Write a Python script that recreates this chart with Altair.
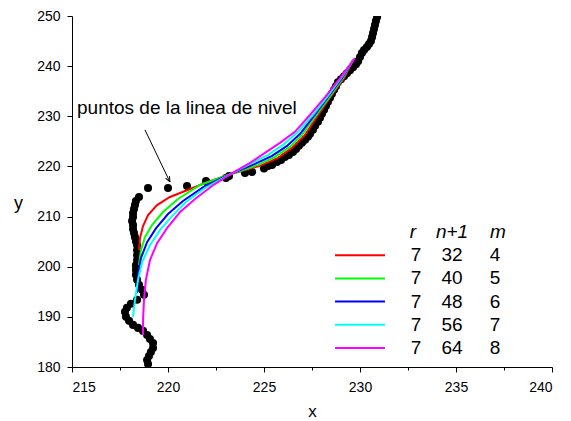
import altair as alt
import pandas as pd

# ---------------- data ----------------
# level-line points (black dots)
pts_x = [218.96, 220.0, 220.99, 221.98, 223.02, 223.18, 224.01, 224.38, 225.0, 225.21,
         218.49, 218.33, 218.28, 218.23, 218.18, 218.18, 218.13, 218.18, 218.18, 218.23,
         218.28, 218.33, 218.39, 218.39, 218.39, 218.39, 218.33, 218.33, 218.33, 218.39,
         218.49, 218.65, 218.75, 218.39, 218.07, 217.86, 217.76, 217.81, 217.97, 218.18,
         218.44, 218.70, 218.91, 219.06, 219.22, 219.22, 219.11, 219.01, 218.91, 218.96,
         225.42, 225.68, 225.89, 226.09, 226.30, 226.51, 226.67, 226.82, 226.98, 227.14,
         227.29, 227.40, 227.55, 227.66, 227.81, 227.92, 228.02, 228.13, 228.23, 228.33,
         228.44, 228.54, 228.65, 228.75, 228.85, 229.01, 229.17, 229.32, 229.48, 229.64,
         229.79, 229.90, 230.0, 230.10, 230.21, 230.36, 230.47, 230.57, 230.63, 230.68,
         230.73, 230.78, 230.83, 230.89]
pts_y = [215.7, 215.7, 216.1, 217.1, 217.7, 218.1, 218.7, 218.9, 219.6, 220.1,
         213.9, 213.1, 212.3, 211.5, 210.7, 209.9, 209.1, 208.3, 207.5, 206.7,
         205.9, 205.1, 204.3, 203.3, 202.3, 201.3, 200.3, 199.4, 198.4, 197.4,
         196.4, 195.4, 194.4, 193.4, 192.6, 191.8, 191.0, 190.0, 189.2, 188.4,
         187.8, 187.2, 186.4, 185.6, 184.8, 183.8, 183.0, 182.2, 181.4, 180.6,
         220.3, 220.9, 221.3, 221.9, 222.3, 222.9, 223.5, 224.1, 224.7, 225.3,
         225.9, 226.5, 227.3, 228.1, 228.9, 229.7, 230.5, 231.3, 232.1, 232.9,
         233.7, 234.5, 235.3, 236.0, 236.8, 237.4, 238.0, 238.6, 239.2, 239.8,
         240.4, 241.0, 241.8, 242.6, 243.2, 243.8, 244.4, 245.0, 245.8, 246.6,
         247.4, 248.2, 249.0, 249.8]

# fitted curves (r = 7, n+1, m)
red_x = [218.49, 218.54, 218.70, 218.96, 219.43, 220.10, 220.89, 221.93, 223.28,
         224.79, 225.73, 226.46, 227.14, 227.76, 228.44, 229.17, 229.64]
red_y = [203.3, 205.7, 208.1, 210.3, 212.3, 213.9, 215.1, 216.7, 218.5,
         220.1, 221.7, 223.7, 226.3, 229.9, 233.7, 237.6, 241.2]
green_x = [218.49, 218.59, 218.80, 219.17, 219.74, 220.52, 221.67, 223.28,
           224.69, 225.57, 226.35, 226.98, 227.66, 228.39, 229.11, 229.64]
green_y = [200.3, 203.3, 205.9, 208.3, 210.9, 213.5, 216.3, 218.5,
           220.3, 221.9, 223.9, 226.3, 229.9, 233.7, 237.6, 241.2]
blue_x = [218.39, 218.44, 218.59, 218.91, 219.38, 220.0, 220.78, 221.93, 223.28,
          224.53, 225.42, 226.20, 226.88, 227.60, 228.33, 229.06, 229.64]
blue_y = [194.8, 198.3, 201.7, 204.9, 207.7, 210.5, 213.1, 216.1, 218.5,
          220.5, 222.1, 224.1, 226.5, 230.1, 233.8, 237.6, 241.2]
cyan_x = [218.18, 218.28, 218.44, 218.65, 219.06, 219.58, 220.21, 220.94, 221.93, 223.28,
          224.38, 225.21, 225.99, 226.77, 227.55, 228.28, 229.01, 229.64]
cyan_y = [190.0, 193.4, 197.4, 200.9, 204.3, 207.3, 210.1, 212.9, 215.7, 218.5,
          220.7, 222.3, 224.3, 226.9, 230.3, 233.8, 237.6, 241.2]
magenta_x = [218.70, 218.70, 218.75, 218.85, 219.06, 219.43, 219.95, 220.63, 221.41, 222.29,
             223.28, 224.27, 225.05, 225.83, 226.61, 227.40, 228.18, 228.96, 229.74]
magenta_y = [186.4, 189.4, 193.4, 197.4, 201.3, 204.7, 207.7, 210.9, 213.5, 216.1,
             218.5, 220.7, 222.7, 224.7, 226.9, 230.3, 233.8, 237.6, 241.6]

leg_r = [7, 7, 7, 7, 7]
leg_n1 = [32, 40, 48, 56, 64]
leg_m = [4, 5, 6, 7, 8]
series_names = ["m4", "m5", "m6", "m7", "m8"]
series_colors = ["#FF0000", "#00FF00", "#0000FF", "#00FFFF", "#FF00FF"]

annot_text = "puntos de la linea de nivel"
annot_xy = (215.26, 230.45)
arrow_from = (218.8, 227.3)
arrow_to = (220.1, 216.9)

x_ticks = [215, 217.5, 220, 222.5, 225, 227.5, 230, 232.5, 235, 237.5, 240]
y_ticks = [180, 185, 190, 195, 200, 205, 210, 215, 220, 225, 230, 235, 240, 245, 250]

# ---------------- frames ----------------
pts = pd.DataFrame({"x": pts_x, "y": pts_y})
rows = []
for name, xs_, ys_ in zip(series_names,
                          [red_x, green_x, blue_x, cyan_x, magenta_x],
                          [red_y, green_y, blue_y, cyan_y, magenta_y]):
    for i, (a, b) in enumerate(zip(xs_, ys_)):
        rows.append({"series": name, "x": a, "y": b, "i": i})
curves = pd.DataFrame(rows)
leg = pd.DataFrame({"row": [1, 2, 3, 4, 5], "r": leg_r, "n1": leg_n1, "m": leg_m,
                    "series": series_names})
head = pd.DataFrame({"row": [0], "r": ["r"], "n1": ["n+1"], "m": ["m"]})
ann = pd.DataFrame({"x": [annot_xy[0]], "y": [annot_xy[1]], "t": [annot_text]})
arrow = pd.DataFrame({"x": [arrow_from[0]], "y": [arrow_from[1]],
                      "x2": [arrow_to[0]], "y2": [arrow_to[1]]})
tip = pd.DataFrame({"x": [arrow_to[0]], "y": [arrow_to[1]]})

FONT = "Liberation Sans"
xs = alt.Scale(domain=[215, 240], nice=False, zero=False)
ys = alt.Scale(domain=[180, 250], nice=False, zero=False)
cs = alt.Scale(domain=series_names, range=series_colors)

x_axis = alt.Axis(values=x_ticks, title="x", grid=False,
                  labelExpr="datum.value % 5 === 0 ? datum.label : ''",
                  tickSize={"condition": {"test": "datum.value % 5 === 0", "value": 5}, "value": 3},
                  labelPadding=8, titleY=44, titleBaseline="middle", titleFontSize=17)
y_axis = alt.Axis(values=y_ticks, title="y", grid=False,
                  labelExpr="datum.value % 10 === 0 ? datum.label : ''",
                  tickSize={"condition": {"test": "datum.value % 10 === 0", "value": 5}, "value": 3},
                  labelPadding=7, titleAngle=0, titleX=-54, titleY=187,
                  titleAlign="center", titleBaseline="middle", titleFontSize=18)

points = alt.Chart(pts).mark_circle(color="black", opacity=1, size=65, clip=True).encode(
    x=alt.X("x:Q", scale=xs, axis=x_axis),
    y=alt.Y("y:Q", scale=ys, axis=y_axis),
)
lines = alt.Chart(curves).mark_line(strokeWidth=2).encode(
    x=alt.X("x:Q", scale=xs),
    y=alt.Y("y:Q", scale=ys),
    color=alt.Color("series:N", scale=cs, legend=None),
    order="i:Q",
)
text = alt.Chart(ann).mark_text(align="left", baseline="alphabetic", font=FONT,
                                fontSize=19, color="black").encode(
    x=alt.X("x:Q", scale=xs), y=alt.Y("y:Q", scale=ys), text="t:N")
arr = alt.Chart(arrow).mark_rule(color="black", strokeWidth=1).encode(
    x=alt.X("x:Q", scale=xs), y=alt.Y("y:Q", scale=ys), x2="x2:Q", y2="y2:Q")
head_shape = alt.Chart(tip).mark_point(shape="M0,0L-0.4,1M0,0L0.4,1", angle=154,
                                       size=120, filled=False, color="black",
                                       strokeWidth=1, opacity=1).encode(
    x=alt.X("x:Q", scale=xs), y=alt.Y("y:Q", scale=ys))

main = alt.layer(points, lines, arr, head_shape, text)

ls = alt.Scale(domain=[0, 5], range=[216, 332])
leg_lines = alt.Chart(leg).mark_rule(strokeWidth=2).encode(
    x=alt.value(263), x2=alt.value(313),
    y=alt.Y("row:Q", scale=ls, axis=None),
    color=alt.Color("series:N", scale=cs, legend=None))


def col(df, field, xpx, italic=False):
    return alt.Chart(df).mark_text(align="center", baseline="middle", font=FONT, fontSize=19,
                                   fontStyle="italic" if italic else "normal",
                                   color="black").encode(
        x=alt.value(xpx), y=alt.Y("row:Q", scale=ls, axis=None), text=f"{field}:N")


legend = alt.layer(leg_lines,
                   col(leg, "r", 344), col(leg, "n1", 380), col(leg, "m", 423),
                   col(head, "r", 341, True), col(head, "n1", 380, True), col(head, "m", 426, True))

chart = alt.layer(main, legend).resolve_scale(y="independent").properties(
    width=480, height=351,
    autosize=alt.AutoSizeParams(type="none"),
    padding={"left": 64, "top": 8, "right": 11, "bottom": 56},
).configure_view(stroke=None).configure_axis(
    domainColor="black", tickColor="black", labelColor="black", titleColor="black",
    labelFont=FONT, titleFont=FONT, labelFontSize=14, titleFontWeight="normal",
    domainWidth=1, tickWidth=1,
)

chart.save("out.html", embed_options={"renderer": "svg", "actions": False})
